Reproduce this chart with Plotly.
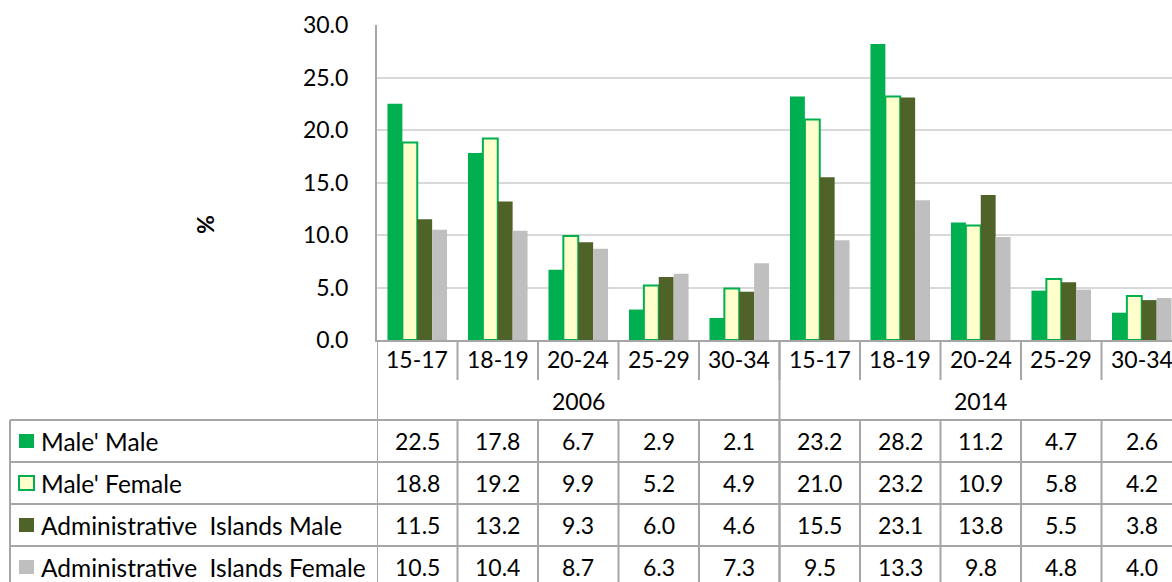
import plotly.graph_objects as go

# ---- data ----
age_groups = ["15-17", "18-19", "20-24", "25-29", "30-34"]
years = ["2006", "2014"]
series_names = ["Male' Male", "Male' Female", "Administrative  Islands Male", "Administrative  Islands Female"]
male_male = [22.5, 17.8, 6.7, 2.9, 2.1, 23.2, 28.2, 11.2, 4.7, 2.6]
male_female = [18.8, 19.2, 9.9, 5.2, 4.9, 21.0, 23.2, 10.9, 5.8, 4.2]
admin_male = [11.5, 13.2, 9.3, 6.0, 4.6, 15.5, 23.1, 13.8, 5.5, 3.8]
admin_female = [10.5, 10.4, 8.7, 6.3, 7.3, 9.5, 13.3, 9.8, 4.8, 4.0]
y_ticks = [0, 5, 10, 15, 20, 25, 30]

series_values = [male_male, male_female, admin_male, admin_female]
fills = ["#00B050", "#FFFFCC", "#4F6228", "#BFBFBF"]
outlines = ["#00B050", "#00B050", "#4F6228", "#BFBFBF"]
outline_w = [0, 2, 0, 0]

W, H = 1172, 582
L, R, T, B = 377, 0, 25, 242
PW = W - L - R
PH = H - T - B
FONT = "Lato, Carlito, Calibri, sans-serif"
FS = 23
LINE = "#A6A6A6"

cats = [a for _ in years for a in age_groups]
xs = list(range(len(cats)))
ncat = len(cats)
cat_px = 80.5
xmax = -0.5 + PW / cat_px


def px_x(px):
    return (px - L) / PW


def px_y(py):
    return (H - B - py) / PH


fig = go.Figure()
for name, vals, fc, lc, lw in zip(series_names, series_values, fills, outlines, outline_w):
    fig.add_trace(go.Bar(
        x=xs, y=vals, name=name,
        marker=dict(color=fc, line=dict(color=lc, width=lw)),
        showlegend=False,
    ))

shapes = []
annotations = []
TXT = dict(size=FS, color="black", family=FONT)
TXT_ROW = dict(size=24.5, color="black", family=FONT)


def vline(x, y0, y1, xref="x"):
    shapes.append(dict(type="line", xref=xref, yref="paper", x0=x, x1=x,
                       y0=px_y(y0), y1=px_y(y1), line=dict(color=LINE, width=2)))


def hline(x0px, y):
    shapes.append(dict(type="line", xref="paper", yref="paper", x0=px_x(x0px), x1=1.02,
                       y0=px_y(y), y1=px_y(y), line=dict(color=LINE, width=2)))


def label(x, y, text, xref="x", xanchor="center", font=TXT, **kw):
    annotations.append(dict(x=x, y=y, xref=xref, yref="paper", text=text, showarrow=False,
                            xanchor=xanchor, yanchor="middle", font=font, **kw))


for i in range(ncat):
    vline(i + 0.5, 340, 380)
vline(-0.5, 340, 582)
vline(len(age_groups) - 0.5, 340, 582)
row_tops = [420, 462, 504, 546]
for y in row_tops:
    hline(10, y)
vline(px_x(10), 420, 582, xref="paper")
for i in range(ncat):
    vline(i + 0.5, 420, 582)

for i, c in enumerate(cats):
    label(i, px_y(359), c)
for k, yr in enumerate(years):
    label(k * len(age_groups) + (len(age_groups) - 1) / 2, px_y(401), yr)

for r, (name, vals) in enumerate(zip(series_names, series_values)):
    yc = row_tops[r] + 21
    shapes.append(dict(type="rect", xref="paper", yref="paper",
                       x0=px_x(19), x1=px_x(34), y0=px_y(yc - 7), y1=px_y(yc + 7),
                       fillcolor=fills[r], line=dict(color=outlines[r], width=2 if outline_w[r] else 0)))
    label(px_x(39), px_y(yc), name, xref="paper", xanchor="left", font=TXT_ROW)
    for i, v in enumerate(vals):
        label(i, px_y(yc), f"{v:.1f}")

label(px_x(205), px_y(225), "<b>%</b>", xref="paper", textangle=-90)

fig.update_layout(
    width=W, height=H,
    margin=dict(l=L, r=R, t=T, b=B, pad=0),
    paper_bgcolor="white", plot_bgcolor="white",
    barmode="group", bargap=0.26, bargroupgap=0,
    xaxis=dict(range=[-0.5, xmax], showticklabels=False, showgrid=False, zeroline=False,
               showline=True, linecolor=LINE, linewidth=2, fixedrange=True),
    yaxis=dict(range=[0, 30], tickvals=y_ticks, tickformat=".1f", showgrid=True,
               gridcolor="#D9D9D9", gridwidth=2, zeroline=False, showline=True,
               linecolor=LINE, linewidth=2, ticks="outside", ticklen=22, tickcolor="rgba(0,0,0,0)",
               tickfont=TXT),
    shapes=shapes, annotations=annotations,
    font=dict(family=FONT, size=FS, color="black"),
)

fig.write_html("out.html", config={"displayModeBar": False},
               post_script="document.body.style.margin='0';document.body.style.overflow='hidden';")
